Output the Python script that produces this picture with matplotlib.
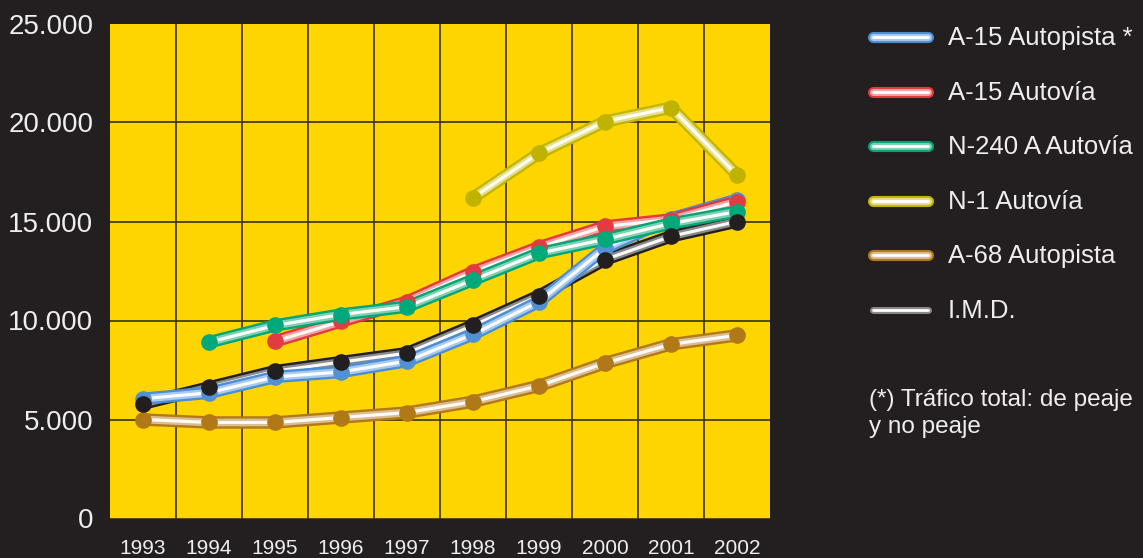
import numpy as np
import matplotlib
matplotlib.use("Agg")
import matplotlib.pyplot as plt
from matplotlib.lines import Line2D

plt.rcParams['font.family'] = ['Liberation Sans', 'DejaVu Sans']

nan = np.nan
years = [1993, 1994, 1995, 1996, 1997, 1998, 1999, 2000, 2001, 2002]
a15_autopista = [6050, 6350, 7150, 7400, 7950, 9300, 10950, 13650, 15150, 16100]
a15_autovia = [nan, nan, 8950, 9950, 10950, 12450, 13700, 14750, 15100, 16000]
n240_autovia = [nan, 8900, 9750, 10300, 10700, 12050, 13400, 14100, 14900, 15500]
n1_autovia = [nan, nan, nan, nan, nan, 16200, 18450, 20050, 20750, 17350]
a68_autopista = [5000, 4850, 4850, 5100, 5350, 5900, 6700, 7850, 8800, 9250]
imd = [5800, 6620, 7440, 7900, 8350, 9750, 11250, 13080, 14250, 15000]

yticks = [0, 5000, 10000, 15000, 20000, 25000]
ytick_labels = ['0', '5.000', '10.000', '15.000', '20.000', '25.000']
legend_labels = ['A-15 Autopista *', 'A-15 Autovía', 'N-240 A Autovía',
                 'N-1 Autovía', 'A-68 Autopista', 'I.M.D.']
note_lines = ['(*) Tráfico total: de peaje', 'y no peaje']

BG = '#231f20'
TXT = '#eeeeee'
# (edge, mid, marker)
styles = {
    'blue': ('#4a8fd6', '#a9c9ef', '#4f91d3'),
    'red': ('#e0393e', '#f2a3a3', '#e13c41'),
    'green': ('#00a676', '#7fd0b2', '#00a97a'),
    'yellow': ('#c2b600', '#e6de8a', '#bfb300'),
    'brown': ('#b07a1a', '#dcbd92', '#b07816'),
    'black': ('#231f20', '#8a8a8a', '#231f20'),
}

fig = plt.figure(figsize=(11.43, 5.58), dpi=100, facecolor=BG)
W, H = 1143, 558
ax = fig.add_axes([110 / W, (H - 518.5) / H, 660 / W, (518.5 - 23.5) / H])
ax.set_facecolor('#ffd500')
for s in ax.spines.values():
    s.set_visible(False)
ax.set_xlim(1992.5, 2002.5)
ax.set_ylim(0, 25000)
ax.set_xticks(years)
ax.set_xticklabels([str(y) for y in years])
ax.set_xticks(np.arange(1993.5, 2002.0, 1.0), minor=True)
ax.set_yticks(yticks)
ax.set_yticklabels(ytick_labels)
ax.grid(which='minor', axis='x', color='#3a3000', lw=1.2)
ax.grid(which='major', axis='y', color='#3a3000', lw=1.2)
ax.tick_params(which='both', length=0)
ax.tick_params(axis='y', pad=12, labelsize=20, colors=TXT)
ax.tick_params(axis='x', pad=15, labelsize=15, colors=TXT)
ax.set_axisbelow(True)


def tube(axis, x, y, key, z, lw=9.0, **kw):
    edge, mid, _ = styles[key]
    common = dict(solid_capstyle='round', solid_joinstyle='round', zorder=z, **kw)
    axis.plot(x, y, color=edge, lw=lw, **common)
    axis.plot(x, y, color=mid, lw=lw * 0.62, **common)
    axis.plot(x, y, color='white', lw=lw * 0.25, alpha=0.95, **common)


series = [
    (a68_autopista, 'brown'),
    (n1_autovia, 'yellow'),
    (imd, 'black'),
    (a15_autopista, 'blue'),
    (a15_autovia, 'red'),
    (n240_autovia, 'green'),
]
for i, (vals, key) in enumerate(series):
    tube(ax, years, vals, key, 3 + i * 0.1)

marker_order = [(a15_autopista, 'blue'), (a15_autovia, 'red'), (n240_autovia, 'green'),
                (n1_autovia, 'yellow'), (a68_autopista, 'brown'), (imd, 'black')]
for i, (vals, key) in enumerate(marker_order):
    ax.plot(years, vals, ls='none', marker='o', ms=12, mfc=styles[key][2],
            mec='none', zorder=5 + i * 0.1)

# Legend
leg_keys = ['blue', 'red', 'green', 'yellow', 'brown', 'black']
row_y = [37, 91.5, 146, 200.5, 255, 309.5]
for key, lab, yy in zip(leg_keys, legend_labels, row_y):
    yf = (H - yy) / H
    edge, mid, _ = styles[key]
    for c, lw in ((edge, 8.0), (mid, 5.0), ('white', 2.0)):
        fig.add_artist(Line2D([873 / W, 928 / W], [yf, yf], color=c, lw=lw,
                              solid_capstyle='round', transform=fig.transFigure))
    fig.text(948 / W, (H - yy - 8.5) / H, lab, color=TXT, fontsize=18.5,
             va='baseline', ha='left')

for line, base in zip(note_lines, [406, 433]):
    fig.text(869 / W, (H - base) / H, line, color=TXT, fontsize=17.5,
             va='baseline', ha='left')

fig.savefig('out.png', dpi=100, facecolor=BG)
